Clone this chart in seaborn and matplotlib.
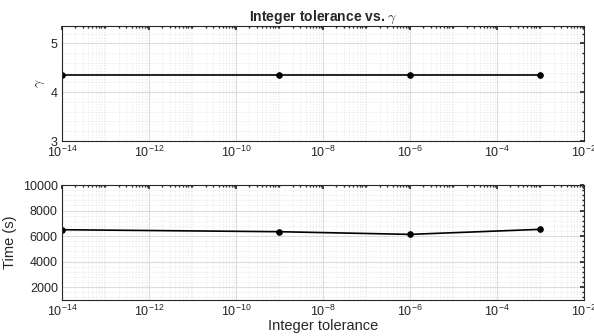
import numpy as np
import pandas as pd
import matplotlib
matplotlib.use('Agg')
import matplotlib.pyplot as plt
import matplotlib.ticker as mticker
import seaborn as sns

tolerance = [1e-14, 1e-9, 1e-6, 1e-3]
gamma = [4.355, 4.355, 4.355, 4.355]
time_s = [6500, 6345, 6135, 6530]

df = pd.DataFrame({'tol': tolerance, 'gamma': gamma, 'time': time_s})

sns.set_theme(style='white')
plt.rcParams['font.family'] = ['Liberation Sans', 'DejaVu Sans']
plt.rcParams['mathtext.fontset'] = 'cm'

fig = plt.figure(figsize=(5.94, 3.36), dpi=100)
ax1 = fig.add_axes([62/594, 1 - 141/336, 522/594, 115/336])
ax2 = fig.add_axes([62/594, 1 - 300/336, 522/594, 115/336])


def style_axis(ax, ylim, yticks, yminor):
    ax.set_xscale('log')
    ax.set_xlim(1e-14, 1e-2)
    ax.set_ylim(*ylim)
    ax.set_yticks(yticks)
    ax.yaxis.set_minor_locator(mticker.MultipleLocator(yminor))
    ax.xaxis.set_major_locator(mticker.FixedLocator([10.0**e for e in range(-14, -1, 2)]))
    ax.xaxis.set_minor_locator(mticker.LogLocator(base=10, subs=np.arange(1, 10), numticks=100))
    ax.xaxis.set_minor_formatter(mticker.NullFormatter())
    ax.xaxis.set_major_formatter(mticker.LogFormatterSciNotation())
    ax.grid(which='major', color='#dcdcdc', linewidth=0.8, linestyle='-')
    ax.grid(which='minor', color='#e6e6e6', linewidth=0.5, linestyle=(0, (2, 2)))
    ax.set_axisbelow(True)
    ax.tick_params(which='both', direction='in', top=True, right=True,
                   labelsize=9, colors='#262626', pad=3)
    ax.tick_params(which='major', length=3)
    ax.tick_params(which='minor', length=1.6)
    for s in ax.spines.values():
        s.set_color('#262626')
        s.set_linewidth(0.8)


sns.lineplot(data=df, x='tol', y='gamma', ax=ax1, color='black', marker='o',
             markersize=4, linewidth=1.2, markeredgecolor='black')
style_axis(ax1, (3, 5.355), [3, 4, 5], 0.2)
ax1.set_xlabel('')
ax1.set_ylabel(r'$\gamma$', fontsize=10, color='#262626', labelpad=3)
ax1.set_title(r'Integer tolerance vs. $\gamma$', fontsize=10, fontweight='bold', pad=4)

sns.lineplot(data=df, x='tol', y='time', ax=ax2, color='black', marker='o',
             markersize=4, linewidth=1.2, markeredgecolor='black')
style_axis(ax2, (1000, 10000), [2000, 4000, 6000, 8000, 10000], 400)
ax2.set_ylabel('Time (s)', fontsize=10.5, color='#262626', labelpad=4)
ax2.set_xlabel('Integer tolerance', fontsize=10.5, color='#262626', labelpad=0)

fig.savefig('out.png', dpi=100)
